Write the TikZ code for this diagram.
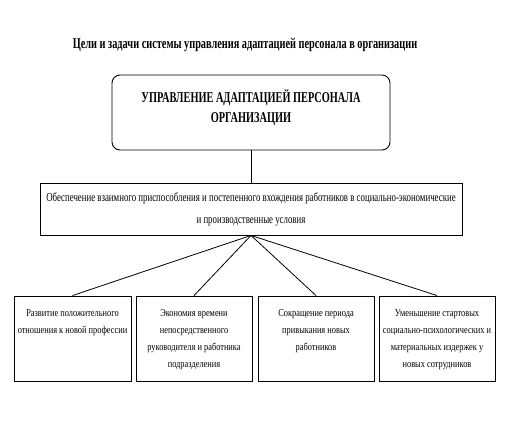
\documentclass[tikz,border=0pt]{standalone}
\usepackage{fontspec}
\setmainfont{Liberation Serif}
\newfontfamily\condA[FakeStretch=0.69]{Liberation Serif}
\newfontfamily\condC[FakeStretch=0.72]{Liberation Serif}
\newfontfamily\condB[FakeStretch=0.8]{Liberation Serif}
\begin{document}
\begin{tikzpicture}[x=1bp,y=-1bp,
  box/.style={draw=black, line width=0.9bp, inner sep=0pt, fill=white},
  txt/.style={inner sep=0pt, align=center},
  link/.style={draw=black, line width=0.8bp}]
\useasboundingbox (0,0) rectangle (507,440);
\fill[white] (0,0) rectangle (507,440);
\node[txt, font=\condA\bfseries\fontsize{15}{18}\selectfont] (title) at (245,45) {Цели и задачи системы управления адаптацией персонала в организации};
\node[box, rounded corners=8bp, minimum width=278bp, minimum height=75bp] (top) at (251,112.5) {};
\node[txt, font=\condA\bfseries\fontsize{15}{20}\selectfont] (toptext) at ([yshift=5bp]top.center) {УПРАВЛЕНИЕ АДАПТАЦИЕЙ ПЕРСОНАЛА\\ОРГАНИЗАЦИИ};
\node[box, minimum width=422bp, minimum height=52bp] (mid) at (251,209) {};
\node[txt, font=\condC\fontsize{12.3}{22}\selectfont] (midtext) at (mid.center) {Обеспечение взаимного приспособления и постепенного вхождения работников в социально-экономические\\и производственные условия};
\node[box, minimum width=117bp, minimum height=85bp] (b1) at (72.5,338.5) {};
\node[box, minimum width=116bp, minimum height=85bp] (b2) at (194,338.5) {};
\node[box, minimum width=116bp, minimum height=85bp] (b3) at (316,338.5) {};
\node[box, minimum width=116bp, minimum height=85bp] (b4) at (437,338.5) {};
\tikzset{btxt/.style={txt, anchor=north, font=\condB\fontsize{10.5}{17}\selectfont}}
\node[btxt] (t1) at ([yshift=-14bp]b1.north) {Развитие положительного\\отношения к новой профессии};
\node[btxt] (t2) at ([yshift=-14bp]b2.north) {Экономия времени\\непосредственного\\руководителя и работника\\подразделения};
\node[btxt] (t3) at ([yshift=-14bp]b3.north) {Сокращение периода\\привыкания новых\\работников};
\node[btxt] (t4) at ([yshift=-14bp]b4.north) {Уменьшение стартовых\\социально-психологических и\\материальных издержек у\\новых сотрудников};
\draw[link] (top.south) -- (mid.north);
\foreach \b in {b1,b2,b3,b4} \draw[link] (mid.south) -- (\b.north);
\end{tikzpicture}
\end{document}
